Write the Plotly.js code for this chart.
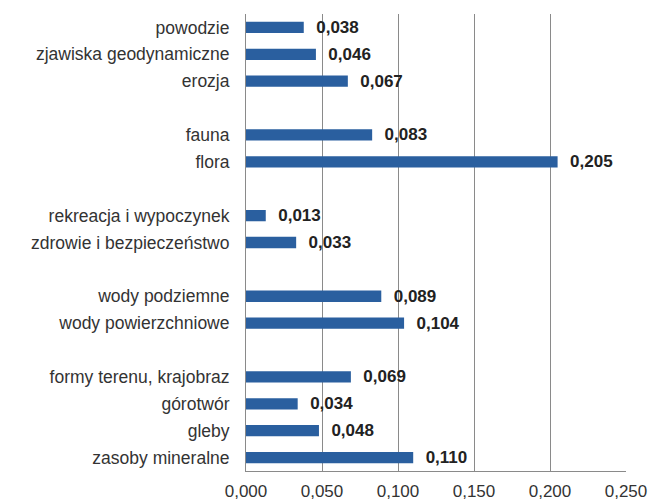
<!DOCTYPE html>
<html>
<head>
<meta charset="utf-8">
<script src="https://cdn.plot.ly/plotly-3.0.1.min.js"></script>
<style>html,body{margin:0;padding:0;background:#fff;}#chart{width:662px;height:503px;}</style>
</head>
<body>
<div id="chart"></div>
<script>
// Categories (top to bottom) and values
const categories = [
  "powodzie", "zjawiska geodynamiczne", "erozja",
  "fauna", "flora",
  "rekreacja i wypoczynek", "zdrowie i bezpieczeństwo",
  "wody podziemne", "wody powierzchniowe",
  "formy terenu, krajobraz", "górotwór", "gleby", "zasoby mineralne"
];
const values = [
  0.038, 0.046, 0.067,
  0.083, 0.205,
  0.013, 0.033,
  0.089, 0.104,
  0.069, 0.034, 0.048, 0.110
];
const groupSizes = [3, 2, 2, 2, 4];
const xTicks = [0, 0.05, 0.10, 0.15, 0.20, 0.25];

// Build the category list with empty spacer slots between groups
const yCats = [], xVals = [], labels = [];
let idx = 0;
groupSizes.forEach((n, g) => {
  for (let i = 0; i < n; i++) {
    yCats.push(categories[idx]);
    xVals.push(values[idx]);
    labels.push('\u00a0\u00a0' + values[idx].toFixed(3).replace('.', ','));
    idx++;
  }
  if (g < groupSizes.length - 1) {
    const sp = 'gap' + (g + 1);
    yCats.push(sp); xVals.push(null); labels.push('');
  }
});

const trace = {
  type: 'bar',
  orientation: 'h',
  y: yCats,
  x: xVals,
  text: labels,
  textposition: 'outside',
  constraintext: 'none',
  cliponaxis: false,
  textfont: {family: 'Liberation Sans, Arial, sans-serif', size: 17, color: '#222', weight: 'bold'},
  marker: {color: '#2a5f9f'},
  width: 0.42,
  hoverinfo: 'none'
};

const layout = {
  width: 662, height: 503,
  margin: {l: 246, r: 36, t: 14, b: 32, pad: 0},
  paper_bgcolor: '#ffffff',
  plot_bgcolor: '#ffffff',
  separators: ', ',
  showlegend: false,
  uniformtext: {mode: false},
  font: {family: 'Liberation Sans, Arial, sans-serif', color: '#333'},
  xaxis: {
    range: [0, 0.25],
    tickvals: xTicks,
    tickformat: '.3f',
    showgrid: true,
    gridcolor: '#8a8a8a',
    gridwidth: 1,
    zeroline: false,
    showline: true,
    linecolor: '#8a8a8a',
    linewidth: 1,
    ticks: '',
    ticklabelstandoff: 5,
    tickfont: {size: 17, color: '#333'},
    fixedrange: true
  },
  yaxis: {
    type: 'category',
    categoryorder: 'array',
    categoryarray: yCats,
    tickvals: categories,
    range: [yCats.length - 0.5, -0.5],
    showgrid: false,
    zeroline: false,
    showline: true,
    linecolor: '#8a8a8a',
    linewidth: 1,
    ticks: '',
    ticklabelstandoff: 12,
    tickfont: {size: 17.5, color: '#333'},
    fixedrange: true
  }
};

Plotly.newPlot('chart', [trace], layout, {displayModeBar: false, staticPlot: true});
</script>
</body>
</html>
